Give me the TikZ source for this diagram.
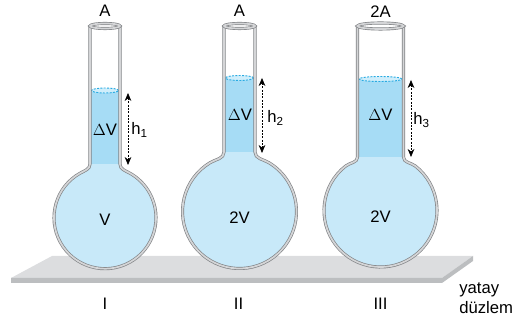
\documentclass[tikz,border=0pt]{standalone}
\usepackage{fontspec}
\setmainfont{Liberation Sans}
\usepackage{tikz}
\usetikzlibrary{arrows.meta}
\definecolor{glassgray}{RGB}{128,130,133}
\definecolor{glasslight}{RGB}{212,213,215}
\definecolor{bulbblue}{RGB}{200,233,249}
\definecolor{tubeblue}{RGB}{166,220,245}
\definecolor{surfline}{RGB}{41,171,226}
\definecolor{surffill}{RGB}{208,238,251}
\definecolor{planetop}{RGB}{220,221,223}
\definecolor{planeside}{RGB}{188,190,192}
\begin{document}
\begin{tikzpicture}[x=0.75pt,y=0.75pt]
\tikzstyle{every node}+=[inner sep=0pt, font=\fontsize{12.5}{15}\selectfont]
\tikzstyle{glass}=[draw=glassgray, line width=0.5pt, double=glasslight, double distance=1.3pt]
\tikzstyle{surface}=[draw=surfline, fill=surffill, line width=0.7pt, dash pattern=on 1.5pt off 1pt]
\tikzstyle{hmark}=[black, line width=0.5pt, dash pattern=on 1.5pt off 1pt, {Stealth[length=6pt,width=5pt]}-{Stealth[length=6pt,width=5pt]}]

\useasboundingbox (0,0) rectangle (530,320);

% yatay duzlem
\fill [planetop] (52,64) -- (473,64) -- (442,42) -- (11,42) -- cycle;
\fill [planeside] (11,42) -- (442,42) -- (473,64) -- (473,59) -- (442,37) -- (11,37) -- cycle;

% kap I
\fill [bulbblue] (90,229.5) -- (90,156) to[out=-90,in=29] (80.27,146.91) arc[start angle=119,end angle=421,radius=51] to[out=151,in=-90] (120,156) -- (120,229.5) -- cycle;
\fill [tubeblue] (90,156) rectangle (120,229.5);
\draw [surface] (105,229.5) ellipse (13.5 and 2.5);
\draw [glass] (90,294) -- (90,156) to[out=-90,in=29] (80.27,146.91) arc[start angle=119,end angle=421,radius=51] to[out=151,in=-90] (120,156) -- (120,294);
\draw [glass] (105,294) ellipse (15 and 2.5);

% kap II
\fill [bulbblue] (224,242) -- (224,168) to[out=-90,in=31] (210.14,157.36) arc[start angle=121,end angle=419,radius=57] to[out=149,in=-90] (255,168) -- (255,242) -- cycle;
\fill [tubeblue] (224,168) rectangle (255,242);
\draw [surface] (239.5,242) ellipse (14 and 2.5);
\draw [glass] (224,294) -- (224,168) to[out=-90,in=31] (210.14,157.36) arc[start angle=121,end angle=419,radius=57] to[out=149,in=-90] (255,168) -- (255,294);
\draw [glass] (239.5,294) ellipse (15.5 and 2.5);

% kap III
\fill [bulbblue] (357.5,241) -- (357.5,163) to[out=-90,in=38] (345.71,154.02) arc[start angle=128,end angle=412,radius=56.5] to[out=142,in=-90] (403.5,163) -- (403.5,241) -- cycle;
\fill [tubeblue] (357.5,163) rectangle (403.5,241);
\draw [surface] (380.5,241) ellipse (21.5 and 2.5);
\draw [glass] (357.5,294) -- (357.5,163) to[out=-90,in=38] (345.71,154.02) arc[start angle=128,end angle=412,radius=56.5] to[out=142,in=-90] (403.5,163) -- (403.5,294);
\draw [glass] (380.5,294) ellipse (23 and 3);

% yukseklikler
\coordinate (hItop) at (128,227);
\coordinate (hIbot) at (128,155);
\coordinate (hIItop) at (262,242);
\coordinate (hIIbot) at (262,167);
\coordinate (hIIItop) at (411,240);
\coordinate (hIIIbot) at (411,163);
\draw [hmark] (hItop) -- (hIbot);
\draw [hmark] (hIItop) -- (hIIbot);
\draw [hmark] (hIIItop) -- (hIIIbot);

% yazilar
\draw (105,309) node (areaI) {A};
\draw (239.5,309) node (areaII) {A};
\draw (380.5,308) node (areaIII) {2A};
\draw (105,190) node (dvI) {$\Delta$V};
\draw (240,205) node (dvII) {$\Delta$V};
\draw (380.5,205) node (dvIII) {$\Delta$V};
\draw (131,190) node [right] (hI) {h\textsubscript{1}};
\draw (267,202) node [right] (hII) {h\textsubscript{2}};
\draw (413,200) node [right] (hIII) {h\textsubscript{3}};
\draw (105,100) node (volI) {V};
\draw (239.5,102) node (volII) {2V};
\draw (380.5,103) node (volIII) {2V};
\draw (105,16) node (numI) {I};
\draw (238.5,16) node (numII) {II};
\draw (380.5,16) node (numIII) {III};
\draw (459,22) node [right, align=left] (plane) {yatay\\d\"uzlem};
\end{tikzpicture}
\end{document}
